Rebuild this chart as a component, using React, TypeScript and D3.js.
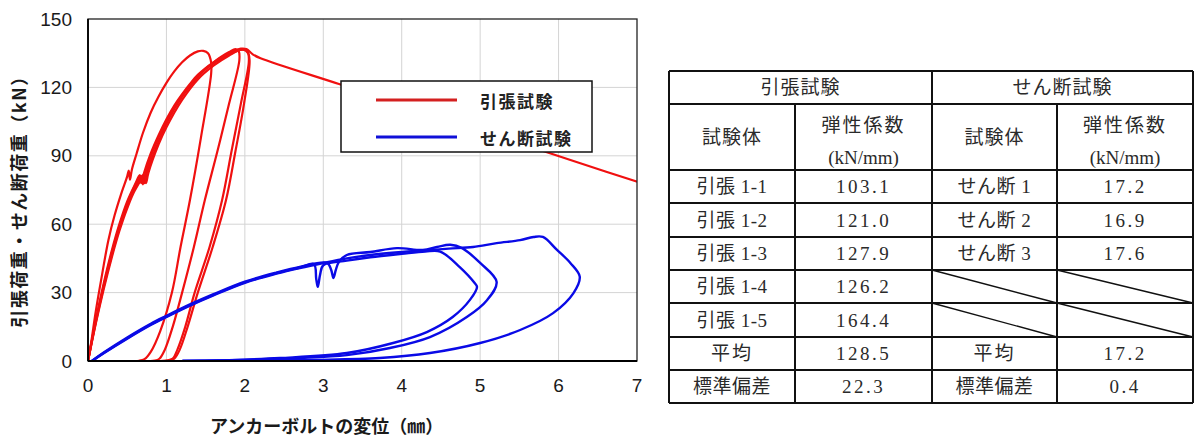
import React from "react";
import * as d3 from "d3";

// ---------- data ----------
const X_TICKS = [0, 1, 2, 3, 4, 5, 6, 7];
const Y_TICKS = [0, 30, 60, 90, 120, 150];
const LEGEND_LABELS = ["引張試験", "せん断試験"];
const X_TITLE = "アンカーボルトの変位（㎜）";
const Y_TITLE = "引張荷重・せん断荷重（kN）";

type P = [number, number];

const RED_1: P[] = [[0,0],[0.04,8],[0.1,22],[0.18,38],[0.26,53],[0.34,64],[0.42,73],[0.5,81],[0.52,83.5],[0.535,79.5],[0.56,84],[0.62,91],[0.7,100],[0.8,109],[0.9,116],[1.0,122],[1.1,127],[1.2,131],[1.3,134],[1.4,135.8],[1.47,136],[1.53,135],[1.57,131],[1.57,126],[1.44,98],[1.30,70.6],[1.18,50],[1.07,30],[0.92,13],[0.80,4],[0.72,0.8],[0.65,0.1],[0.4,0]];
const RED_2: P[] = [[0,0],[0.1,18],[0.2,34],[0.3,48],[0.4,60],[0.5,70],[0.6,77.5],[0.66,81.5],[0.68,78],[0.71,82],[0.8,91],[0.9,99],[1.0,106],[1.1,112],[1.2,117],[1.3,121.5],[1.4,125.5],[1.5,128.5],[1.6,131],[1.7,133.5],[1.8,135.5],[1.88,136.8],[1.92,136],[1.93,132],[1.80,113],[1.65,92],[1.49,70.6],[1.35,50],[1.20,30],[1.08,15],[0.98,5],[0.91,1],[0.85,0.2],[0.6,0]];
const RED_3: P[] = [[0,0],[0.1,17],[0.2,32.5],[0.3,46],[0.4,58],[0.5,68],[0.6,76],[0.7,81.5],[0.72,78],[0.75,82.5],[0.85,92],[1.0,104],[1.1,110.5],[1.2,116],[1.3,120.5],[1.4,124.5],[1.5,128],[1.6,130.5],[1.7,132.5],[1.8,134.5],[1.9,136],[1.98,136.5],[2.04,135],[2.05,131],[1.95,113],[1.83,92],[1.71,70.6],[1.55,50],[1.36,30],[1.24,15],[1.14,5],[1.08,1],[1.0,0.2],[0.85,0]];
const RED_4: P[] = [[0,0],[0.1,17.5],[0.2,33],[0.3,47],[0.4,59],[0.5,69],[0.6,77],[0.68,81],[0.7,77.5],[0.73,82],[0.82,91.5],[1.0,105],[1.2,116.5],[1.4,125],[1.6,131],[1.8,135],[1.95,137],[2.02,136.8],[2.1,134.5],[2.2,132.8],[3.2,121.5],[4.2,110.3],[5.2,99],[6.2,87.6],[7.2,76.4]];
const RED_5: P[] = [[0,0],[0.1,16.5],[0.2,31.5],[0.3,45],[0.4,57],[0.5,67],[0.6,75],[0.72,81],[0.74,78],[0.77,82.5],[0.9,95],[1.0,102.5],[1.2,114.5],[1.4,123.5],[1.6,129.5],[1.8,134],[1.95,136.5],[2.03,136],[2.06,132],[1.99,113],[1.88,92],[1.76,70.6],[1.59,50],[1.40,30],[1.27,15],[1.17,5],[1.1,1],[1.03,0.2],[0.9,0]];

const BLUE_1: P[] = [[0.05,0],[0.2,3.5],[0.5,10],[0.8,16],[1.0,19.5],[1.3,24.5],[1.6,29],[2.0,34.5],[2.4,38.5],[2.7,41],[2.88,42.5],[2.91,36],[2.93,32.5],[2.96,38],[3.0,42],[3.3,44],[3.6,45.5],[4.0,47],[4.3,48],[4.49,48],[4.74,41.2],[4.93,34.2],[4.96,32.5],[4.87,26.8],[4.65,19.3],[4.32,12.7],[3.89,7.9],[3.30,3.5],[2.45,1.3],[1.8,0.4],[1.2,0]];
const BLUE_2: P[] = [[0.05,0],[0.2,3.7],[0.5,10.3],[0.8,16.3],[1.0,19.8],[1.3,24.8],[1.6,29.3],[2.0,34.8],[2.4,38.8],[2.7,41.3],[3.05,43],[3.1,40],[3.13,36.4],[3.16,40],[3.2,43.5],[3.3,46.5],[3.6,47.8],[3.94,49.5],[4.27,48.7],[4.45,50],[4.62,51],[4.77,49.5],[5.0,43],[5.21,34.7],[5.09,26.8],[4.83,19.3],[4.36,10.5],[3.85,5.7],[3.30,2.6],[2.66,1.3],[2.0,0.5],[1.5,0.15],[1.2,0]];
const BLUE_3: P[] = [[0.05,0],[0.2,3.4],[0.5,9.8],[0.8,15.8],[1.0,19.3],[1.3,24.3],[1.6,28.8],[2.0,34.3],[2.4,38.3],[2.7,40.8],[3.0,43],[3.3,45],[3.6,46.5],[4.0,47.8],[4.3,48.5],[4.6,49.3],[4.91,50],[5.21,51.7],[5.51,53],[5.68,54.4],[5.80,54.4],[5.98,48.7],[6.15,43],[6.27,37],[6.19,29.8],[5.93,21],[5.51,13.6],[5.0,7.9],[4.36,3.5],[3.72,1.3],[2.87,0.5],[2.0,0.15],[1.21,0]];

const RED_SERIES = [RED_1, RED_2, RED_3, RED_4, RED_5];
const BLUE_SERIES = [BLUE_1, BLUE_2, BLUE_3];

// table
const TABLE_GROUPS = ["引張試験", "せん断試験"];
const TABLE_COL_HEAD = ["試験体", "弾性係数", "(kN/mm)"];
const TENSILE_NAMES = ["引張 1-1", "引張 1-2", "引張 1-3", "引張 1-4", "引張 1-5"];
const TENSILE_VALUES = ["103.1", "121.0", "127.9", "126.2", "164.4"];
const SHEAR_NAMES = ["せん断 1", "せん断 2", "せん断 3"];
const SHEAR_VALUES = ["17.2", "16.9", "17.6"];
const STAT_LABELS = ["平均", "標準偏差"];
const TENSILE_STATS = ["128.5", "22.3"];
const SHEAR_STATS = ["17.2", "0.4"];

const RED = "#f01010";
const BLUE = "#0a0ae6";

export default function App() {
  const x = d3.scaleLinear().domain([0, 7]).range([88, 637]);
  const y = d3.scaleLinear().domain([0, 150]).range([361, 19]);
  const line = d3
    .line<P>()
    .x((d) => x(d[0]))
    .y((d) => y(d[1]))
    .curve(d3.curveCatmullRom.alpha(0.5));

  const tickFont = "'Liberation Sans', Arial, sans-serif";
  const jpFont = "'Noto Sans CJK JP', sans-serif";
  const tblFont = "'Liberation Serif', 'Noto Sans CJK JP', serif";

  // table layout
  const cols = [669, 795, 932, 1057, 1193];
  const rows = [71, 104, 170, 203, 237, 270, 303, 337, 370, 403];
  const cx = (i: number) => (cols[i] + cols[i + 1]) / 2;
  const cy = (r: number) => (rows[r] + rows[r + 1]) / 2;
  const tText = (t: string, xx: number, yy: number, key: string, ls = 0) => (
    <text key={key} x={xx} y={yy} textAnchor="middle" dominantBaseline="central"
      fontFamily={tblFont} fontSize={19} fill="#2a2a2a" letterSpacing={ls}>{t}</text>
  );

  const bodyRows: { tn: string; tv: string; sn: string | null; sv: string | null }[] = [];
  for (let i = 0; i < 5; i++) {
    bodyRows.push({ tn: TENSILE_NAMES[i], tv: TENSILE_VALUES[i], sn: SHEAR_NAMES[i] ?? null, sv: SHEAR_VALUES[i] ?? null });
  }
  for (let i = 0; i < 2; i++) {
    bodyRows.push({ tn: STAT_LABELS[i], tv: TENSILE_STATS[i], sn: STAT_LABELS[i], sv: SHEAR_STATS[i] });
  }

  return (
    <svg width={1194} height={438} style={{ position: "absolute", left: 0, top: 0, background: "#fff" }}>
      <defs>
        <clipPath id="plotClip">
          <rect x={88} y={19} width={549} height={342} />
        </clipPath>
      </defs>
      <rect x={0} y={0} width={1194} height={438} fill="#fff" />
      {/* grid */}
      {X_TICKS.slice(1, -1).map((t) => (
        <line key={"gx" + t} x1={x(t)} x2={x(t)} y1={y(150)} y2={y(0)} stroke="#d4d4d4" strokeWidth={1} />
      ))}
      {Y_TICKS.slice(1, -1).map((t) => (
        <line key={"gy" + t} x1={x(0)} x2={x(7)} y1={y(t)} y2={y(t)} stroke="#d4d4d4" strokeWidth={1} />
      ))}
      {/* curves */}
      <g clipPath="url(#plotClip)" fill="none">
        {RED_SERIES.map((s, i) => (
          <path key={"r" + i} d={line(s) || ""} stroke={RED} strokeWidth={2.2} strokeLinejoin="round" />
        ))}
        {BLUE_SERIES.map((s, i) => (
          <path key={"b" + i} d={line(s) || ""} stroke={BLUE} strokeWidth={2.4} strokeLinejoin="round" />
        ))}
      </g>
      {/* frame */}
      <rect x={88} y={19} width={549} height={342} fill="none" stroke="#222" strokeWidth={1.3} />
      <line x1={88} x2={88} y1={19} y2={361} stroke="#000" strokeWidth={1.8} />
      <line x1={88} x2={637} y1={361} y2={361} stroke="#000" strokeWidth={1.8} />
      {/* ticks */}
      {Y_TICKS.map((t) => (
        <text key={"ty" + t} x={72} y={y(t)} textAnchor="end" dominantBaseline="central"
          fontFamily={tickFont} fontSize={19} fill="#1a1a1a">{t}</text>
      ))}
      {X_TICKS.map((t) => (
        <text key={"tx" + t} x={x(t)} y={385} textAnchor="middle" dominantBaseline="central"
          fontFamily={tickFont} fontSize={19} fill="#1a1a1a">{t}</text>
      ))}
      {/* axis titles */}
      <text x={210} y={425} dominantBaseline="central" fontFamily={jpFont} fontSize={18}
        fontWeight="bold" fill="#1a1a1a">{X_TITLE}</text>
      <text transform="translate(18,197) rotate(-90)" textAnchor="middle" dominantBaseline="central"
        fontFamily={jpFont} fontSize={18} fontWeight="bold" fill="#1a1a1a" letterSpacing={1.5}>{Y_TITLE}</text>
      {/* legend */}
      <rect x={341} y={81} width={251} height={71} fill="#fff" stroke="#111" strokeWidth={1.5} />
      <line x1={376} x2={457} y1={100} y2={100} stroke="#d42020" strokeWidth={3} />
      <line x1={376} x2={457} y1={137} y2={137} stroke="#1010d8" strokeWidth={3} />
      {LEGEND_LABELS.map((l, i) => (
        <text key={"lg" + i} x={480} y={i === 0 ? 100 : 137} dominantBaseline="central"
          fontFamily={jpFont} fontSize={17} fontWeight="bold" fill="#222" letterSpacing={1.5}>{l}</text>
      ))}
      {/* table */}
      <g>
        {tText(TABLE_GROUPS[0], (cols[0] + cols[2]) / 2, cy(0), "g0", 1)}
        {tText(TABLE_GROUPS[1], (cols[2] + cols[4]) / 2, cy(0), "g1", 1)}
        {[0, 2].map((c) => (
          <React.Fragment key={"h" + c}>
            {tText(TABLE_COL_HEAD[0], cx(c), cy(1), "hn" + c, 1)}
            {tText(TABLE_COL_HEAD[1], cx(c + 1), 125, "hv" + c, 2)}
            {tText(TABLE_COL_HEAD[2], cx(c + 1), 157, "hu" + c, 0)}
          </React.Fragment>
        ))}
        {bodyRows.map((r, i) => (
          <React.Fragment key={"row" + i}>
            {tText(r.tn, cx(0), cy(i + 2), "tn" + i, r.tn.length === 2 ? 2 : 0.5)}
            {tText(r.tv, cx(1), cy(i + 2), "tv" + i, 2.5)}
            {r.sn !== null ? tText(r.sn, cx(2), cy(i + 2), "sn" + i, r.sn.length === 2 ? 2 : 0.5) : (
              <line x1={cols[2]} y1={rows[i + 2]} x2={cols[3]} y2={rows[i + 3]} stroke="#111" strokeWidth={1.4} />
            )}
            {r.sv !== null ? tText(r.sv, cx(3), cy(i + 2), "sv" + i, 2.5) : (
              <line x1={cols[3]} y1={rows[i + 2]} x2={cols[4]} y2={rows[i + 3]} stroke="#111" strokeWidth={1.4} />
            )}
          </React.Fragment>
        ))}
        {rows.map((ry, i) => (
          <line key={"hl" + i} x1={cols[0]} x2={cols[4]} y1={ry} y2={ry} stroke="#111" strokeWidth={2} />
        ))}
        {cols.map((c, i) => (
          <line key={"vl" + i} x1={c} x2={c} y1={i === 1 || i === 3 ? rows[1] : rows[0]} y2={rows[rows.length - 1]}
            stroke="#111" strokeWidth={2} />
        ))}
      </g>
    </svg>
  );
}
